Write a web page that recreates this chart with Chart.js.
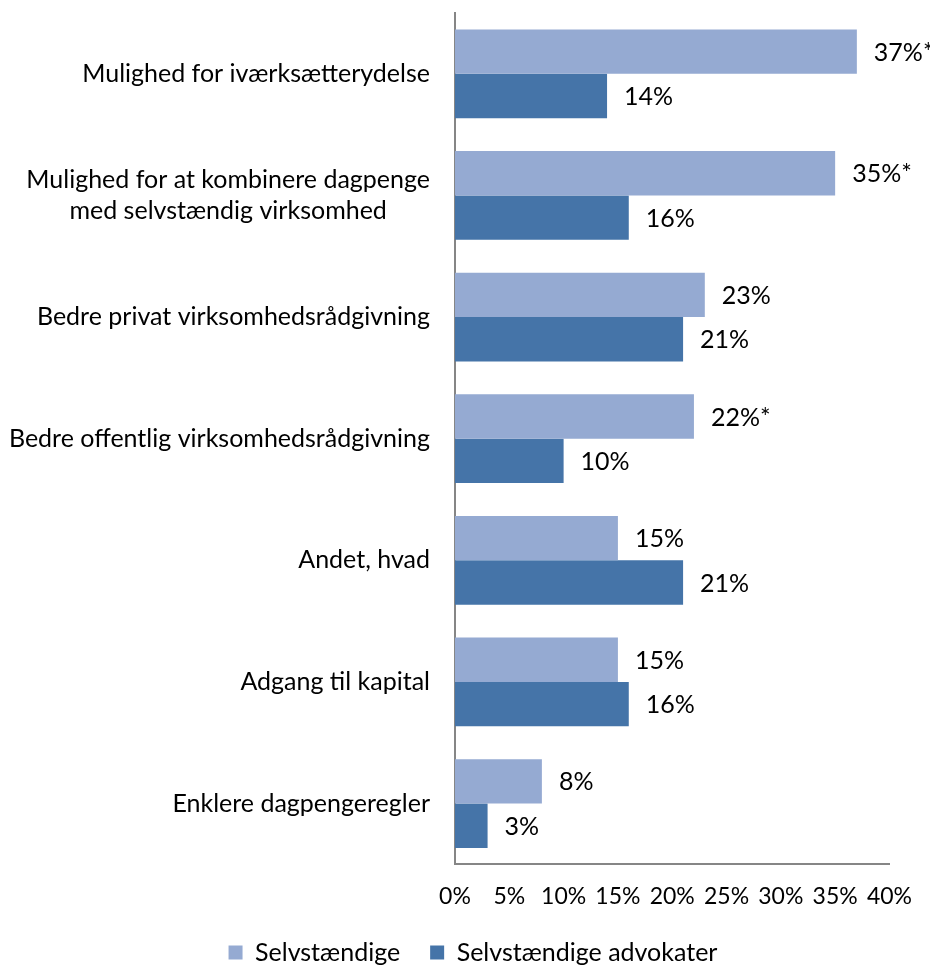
<!DOCTYPE html>
<html>
<head>
<meta charset="utf-8">
<script src="https://cdn.jsdelivr.net/npm/chart.js@4.4.0/dist/chart.umd.min.js"></script>
<style>
  html, body { margin: 0; padding: 0; background: #fff; }
  #wrap { width: 930px; height: 967px; }
</style>
</head>
<body>
<div id="wrap"><canvas id="barChart" width="930" height="967"></canvas></div>
<script>
// data
var CATEGORIES = [
    ["Mulighed for iværksætterydelse"],
    ["Mulighed for at kombinere dagpenge", "med selvstændig virksomhed"],
    ["Bedre privat virksomhedsrådgivning"],
    ["Bedre offentlig virksomhedsrådgivning"],
    ["Andet, hvad"],
    ["Adgang til kapital"],
    ["Enklere dagpengeregler"]
];
var SERIES_NAMES = ["Selvstændige", "Selvstændige advokater"];
var SELVSTAENDIGE = [37, 35, 23, 22, 15, 15, 8];
var ADVOKATER = [14, 16, 21, 10, 21, 16, 3];
var SIGNIFICANT = [true, true, false, true, false, false, false]; // the "*" marks
var TICK_MAX = 40, TICK_STEP = 5;

var FONT = "Lato";
var FONT_SIZE = 25;
var COLORS = ["#95aad2", "#4574a8"];

// value labels next to each bar
var valueLabels = {
    id: 'valueLabels',
    afterDatasetsDraw: function(chart) {
        var ctx = chart.ctx;
        ctx.save();
        ctx.font = FONT_SIZE + "px " + FONT;
        ctx.fillStyle = "#000";
        ctx.textAlign = "left";
        ctx.textBaseline = "middle";
        chart.data.datasets.forEach(function(ds, di) {
            var meta = chart.getDatasetMeta(di);
            meta.data.forEach(function(bar, i) {
                var txt = ds.data[i] + "%";
                if (di === 0 && SIGNIFICANT[i]) txt += "*";
                ctx.fillText(txt, bar.x + 17, bar.y + 1);
            });
        });
        ctx.restore();
    }
};

// category labels: single lines right aligned, multi lines centred on each other
var categoryLabels = {
    id: 'categoryLabels',
    afterDraw: function(chart) {
        var ctx = chart.ctx;
        var yScale = chart.scales.y;
        var right = 430;
        var lineH = 31;
        ctx.save();
        ctx.font = FONT_SIZE + "px " + FONT;
        ctx.fillStyle = "#000";
        ctx.textBaseline = "middle";
        ctx.textAlign = "center";
        CATEGORIES.forEach(function(lines, i) {
            var y = yScale.getPixelForValue(i);
            var widest = 0;
            lines.forEach(function(l) { widest = Math.max(widest, ctx.measureText(l).width); });
            var cx = right - widest / 2;
            var y0 = y - (lines.length - 1) * lineH / 2;
            lines.forEach(function(l, k) {
                ctx.fillText(l, cx, y0 + k * lineH);
            });
        });
        ctx.restore();
    }
};

var ctx1 = document.getElementById("barChart").getContext("2d");
var barChart = new Chart(ctx1, {
    type: 'bar',
    data: {
        labels: CATEGORIES.map(function(c) { return c.join(" "); }),
        datasets: [
            {
                label: SERIES_NAMES[0],
                data: SELVSTAENDIGE,
                backgroundColor: COLORS[0],
                borderWidth: 0
            },
            {
                label: SERIES_NAMES[1],
                data: ADVOKATER,
                backgroundColor: COLORS[1],
                borderWidth: 0
            }
        ]
    },
    options: {
        indexAxis: 'y',
        responsive: false,
        animation: false,
        layout: { padding: { top: 13, right: 38, bottom: -8, left: 54 } },
        datasets: {
            bar: { categoryPercentage: 0.73, barPercentage: 1.0 }
        },
        scales: {
            x: {
                min: 0,
                max: TICK_MAX,
                grid: { display: false, drawTicks: false },
                border: { display: true, color: "#868686", width: 2 },
                ticks: {
                    stepSize: TICK_STEP,
                    padding: 18,
                    maxRotation: 0,
                    minRotation: 0,
                    autoSkip: false,
                    color: "#000",
                    font: { family: FONT, size: 23 },
                    callback: function(v) { return v + "%"; }
                },
                afterFit: function(scale) { scale.height = scale.height - 18; }
            },
            y: {
                grid: { display: false, drawTicks: false },
                border: { display: true, color: "#868686", width: 2 },
                ticks: { display: false },
                afterFit: function(scale) { scale.width = 401; }
            }
        },
        plugins: {
            legend: {
                position: 'bottom',
                labels: {
                    color: "#000",
                    font: { family: FONT, size: FONT_SIZE },
                    boxWidth: 14,
                    boxHeight: 14,
                    padding: 30
                }
            },
            tooltip: { enabled: false }
        }
    },
    plugins: [valueLabels, categoryLabels]
});
</script>
</body>
</html>
